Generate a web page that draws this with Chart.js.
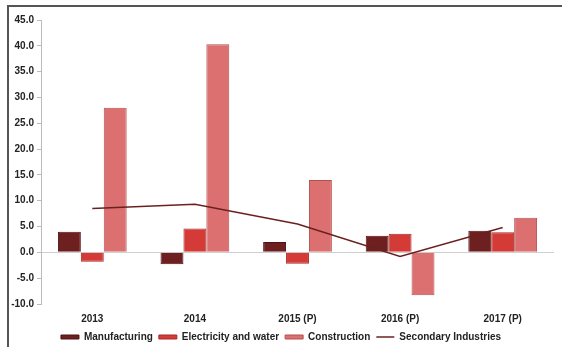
<!DOCTYPE html>
<html>
<head>
<meta charset="utf-8">
<script src="https://cdn.jsdelivr.net/npm/chart.js@4"></script>
<style>
  html, body { margin: 0; padding: 0; background: #fff; }
  #wrap { position: relative; width: 562px; height: 347px; }
</style>
</head>
<body>
<div id="wrap"><canvas id="myChart" width="562" height="347"></canvas></div>
<script>
// data (growth, %)
const years = ['2013', '2014', '2015 (P)', '2016 (P)', '2017 (P)'];
const manufacturing = [4.0, -2.3, 2.0, 3.2, 4.2];
const electricity = [-1.8, 4.6, -2.2, 3.6, 3.9];
const construction = [28.0, 40.3, 14.0, -8.3, 6.7];
const secondary = [8.5, 9.3, 5.5, -0.8, 4.8];
const yTicks = [45, 40, 35, 30, 25, 20, 15, 10, 5, 0, -5, -10];

const font = { family: 'Liberation Sans, Arial, sans-serif', size: 10, weight: 'bold' };

// frame: dark line along the top and the left edge
const framePlugin = {
    id: 'frame',
    afterDraw(chart) {
        const c = chart.ctx;
        c.save();
        c.strokeStyle = '#555';
        c.lineWidth = 2;
        c.beginPath();
        c.moveTo(8, 347);
        c.lineTo(8, 6);
        c.lineTo(562, 6);
        c.stroke();
        c.restore();
    }
};

const ctx = document.getElementById('myChart').getContext('2d');

const myChart = new Chart(ctx, {
    type: 'bar',
    data: {
        labels: years,
        datasets: [{
            label: 'Manufacturing',
            data: manufacturing,
            backgroundColor: '#6e1f1f',
            borderColor: '#4e1414',
            borderWidth: 1,
            pointStyle: 'rect',
            order: 2
        }, {
            label: 'Electricity and water',
            data: electricity,
            backgroundColor: '#d43b37',
            borderColor: '#a82a28',
            borderWidth: 1,
            pointStyle: 'rect',
            order: 2
        }, {
            label: 'Construction',
            data: construction,
            backgroundColor: '#dc7070',
            borderColor: '#b55050',
            borderWidth: 1,
            pointStyle: 'rect',
            order: 2
        }, {
            type: 'line',
            label: 'Secondary Industries',
            data: secondary,
            borderColor: '#6b2020',
            backgroundColor: '#6b2020',
            borderWidth: 1.5,
            pointRadius: 0,
            pointStyle: 'line',
            tension: 0,
            order: 1
        }]
    },
    options: {
        responsive: false,
        animation: false,
        layout: { padding: { left: 8, top: 20, right: 8, bottom: -5 } },
        datasets: {
            bar: { barPercentage: 1, categoryPercentage: 0.67 }
        },
        plugins: {
            legend: {
                position: 'bottom',
                labels: {
                    font: font,
                    color: '#222',
                    usePointStyle: true,
                    pointStyleWidth: 18,
                    boxHeight: 4,
                    padding: 6,
                    sort: (a, b) => a.datasetIndex - b.datasetIndex
                }
            },
            tooltip: { enabled: false }
        },
        scales: {
            x: {
                afterFit(scale) { scale.height = 22; },
                grid: { display: false },
                border: { display: false },
                ticks: { font: font, color: '#222', padding: 1 }
            },
            y: {
                min: -10,
                max: 45,
                afterBuildTicks(scale) {
                    scale.ticks = yTicks.map(v => ({ value: v }));
                },
                afterFit(scale) { scale.width = 33; },
                grid: {
                    drawOnChartArea: true,
                    tickLength: 4,
                    color: c => (c.tick && c.tick.value === 0) ? '#cfcfcf' : 'rgba(0,0,0,0)',
                    tickColor: '#bbb'
                },
                border: { display: true, color: '#bbb' },
                ticks: {
                    font: font,
                    color: '#222',
                    padding: 3,
                    callback: v => v.toFixed(1)
                }
            }
        }
    },
    plugins: [framePlugin]
});
</script>
</body>
</html>
